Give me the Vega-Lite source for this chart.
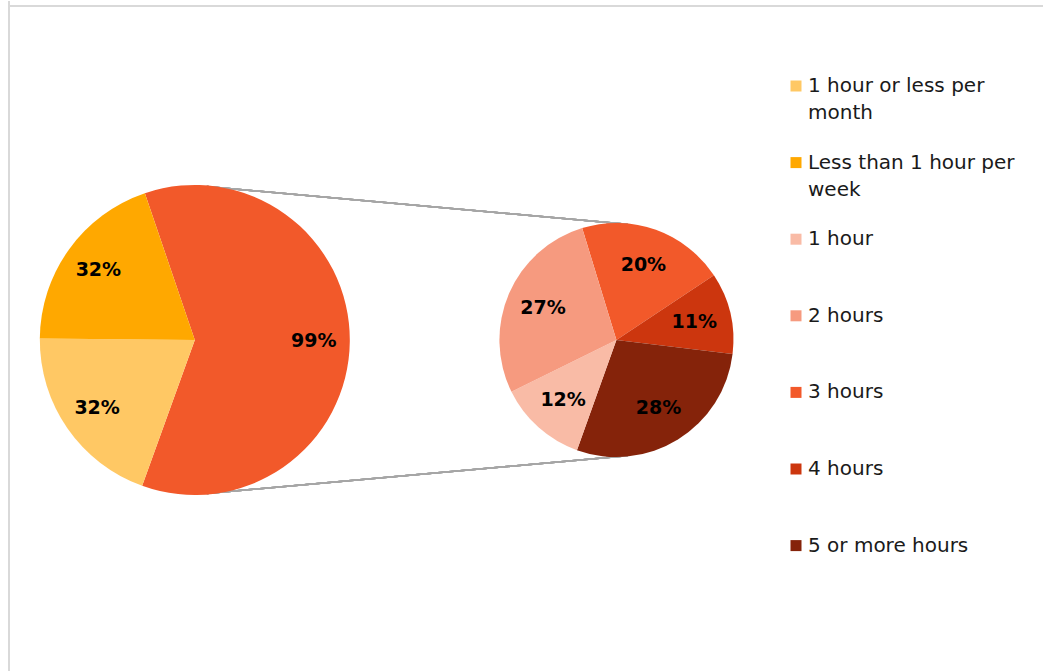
{
  "$schema": "https://vega.github.io/schema/vega-lite/v6.json",
  "width": 1044,
  "height": 672,
  "autosize": {"type": "fit", "contains": "padding"},
  "padding": 0,
  "background": "white",
  "config": {"view": {"stroke": null}, "font": "DejaVu Sans"},
  "datasets": {
    "slices": [
      {"pie": "main", "category": "Other", "value": 99, "label": "99%", "order": 1},
      {"pie": "main", "category": "1 hour or less per month", "value": 32, "label": "32%", "order": 2},
      {"pie": "main", "category": "Less than 1 hour per week", "value": 32, "label": "32%", "order": 3},
      {"pie": "detail", "category": "3 hours", "value": 20, "label": "20%", "order": 1},
      {"pie": "detail", "category": "4 hours", "value": 11, "label": "11%", "order": 2},
      {"pie": "detail", "category": "5 or more hours", "value": 28, "label": "28%", "order": 3},
      {"pie": "detail", "category": "1 hour", "value": 12, "label": "12%", "order": 4},
      {"pie": "detail", "category": "2 hours", "value": 27, "label": "27%", "order": 5}
    ]
  },
  "data": {"name": "slices"},
  "layer": [
    {
      "mark": {"type": "rule", "color": "#D9D9D9", "strokeWidth": 2},
      "encoding": {
        "x": {"datum": 9, "type": "quantitative", "scale": {"domain": [0, 1044], "nice": false, "zero": false}, "axis": null}
      }
    },
    {
      "mark": {"type": "rule", "color": "#D9D9D9", "strokeWidth": 2},
      "encoding": {
        "x": {"datum": 8, "type": "quantitative", "scale": {"domain": [0, 1044], "nice": false, "zero": false}, "axis": null},
        "x2": {"datum": 1044},
        "y": {"datum": 5, "type": "quantitative", "scale": {"domain": [0, 672], "nice": false, "zero": false, "reverse": true}, "axis": null}
      }
    },
    {
      "mark": {"type": "rule", "color": "#A6A6A6", "strokeWidth": 1.5},
      "encoding": {
        "x": {"datum": 207, "type": "quantitative", "scale": {"domain": [0, 1044], "nice": false, "zero": false}, "axis": null},
        "x2": {"datum": 628},
        "y": {"datum": 186, "type": "quantitative", "scale": {"domain": [0, 672], "nice": false, "zero": false, "reverse": true}, "axis": null},
        "y2": {"datum": 224}
      }
    },
    {
      "mark": {"type": "rule", "color": "#A6A6A6", "strokeWidth": 1.5},
      "encoding": {
        "x": {"datum": 207, "type": "quantitative", "scale": {"domain": [0, 1044], "nice": false, "zero": false}, "axis": null},
        "x2": {"datum": 628},
        "y": {"datum": 494, "type": "quantitative", "scale": {"domain": [0, 672], "nice": false, "zero": false, "reverse": true}, "axis": null},
        "y2": {"datum": 456}
      }
    },
    {
      "transform": [{"filter": "datum.pie === 'main'"}],
      "encoding": {
        "x": {"datum": 195, "type": "quantitative", "scale": {"domain": [0, 1044], "nice": false, "zero": false}, "axis": null},
        "y": {"datum": 340, "type": "quantitative", "scale": {"domain": [0, 672], "nice": false, "zero": false, "reverse": true}, "axis": null},
        "theta": {"field": "value", "type": "quantitative", "stack": true, "scale": {"range": [-0.328, 5.955]}},
        "order": {"field": "order", "type": "quantitative"}
      },
      "layer": [
        {
          "mark": {"type": "arc", "outerRadius": 155},
          "encoding": {
            "color": {
              "field": "category", "type": "nominal",
              "scale": {
                "domain": ["1 hour or less per month", "Less than 1 hour per week", "1 hour", "2 hours", "3 hours", "4 hours", "5 or more hours", "Other"],
                "range": ["#FFC864", "#FFA800", "#F9BBA6", "#F69A7F", "#F2592A", "#CC360E", "#85230A", "#F2592A"]
              },
              "legend": {
                "values": ["1 hour or less per month", "Less than 1 hour per week", "1 hour", "2 hours", "3 hours", "4 hours", "5 or more hours"],
                "title": null,
                "orient": "none",
                "legendX": 786,
                "legendY": 75,
                "padding": 0,
                "symbolType": "square",
                "symbolSize": 121,
                "symbolStrokeWidth": 0,
                "labelFontSize": 20,
                "labelColor": "#1a1a1a",
                "labelFont": "DejaVu Sans",
                "labelOffset": 2,
                "labelBaseline": "middle",
                "labelLimit": 400,
                "labelExpr": "datum.label === '1 hour or less per month' ? ['1 hour or less per', 'month'] : datum.label === 'Less than 1 hour per week' ? ['Less than 1 hour per', 'week'] : datum.label",
                "gridAlign": "all",
                "rowPadding": 29.6,
                "encode": {"labels": {"update": {"lineHeight": {"value": 27}}}}
              }
            }
          }
        },
        {
          "mark": {"type": "text", "radius": 119, "fontWeight": "bold", "fontSize": 19, "color": "#000000", "font": "DejaVu Sans"},
          "encoding": {"text": {"field": "label", "type": "nominal"}}
        }
      ]
    },
    {
      "transform": [{"filter": "datum.pie === 'detail'"}],
      "encoding": {
        "x": {"datum": 617, "type": "quantitative", "scale": {"domain": [0, 1044], "nice": false, "zero": false}, "axis": null},
        "y": {"datum": 340, "type": "quantitative", "scale": {"domain": [0, 672], "nice": false, "zero": false, "reverse": true}, "axis": null},
        "theta": {"field": "value", "type": "quantitative", "stack": true, "scale": {"range": [-0.297, 5.986]}},
        "order": {"field": "order", "type": "quantitative"}
      },
      "layer": [
        {
          "mark": {"type": "arc", "outerRadius": 117},
          "encoding": {
            "color": {"field": "category", "type": "nominal"}
          }
        },
        {
          "mark": {"type": "text", "radius": 80, "fontWeight": "bold", "fontSize": 19, "color": "#000000", "font": "DejaVu Sans"},
          "encoding": {"text": {"field": "label", "type": "nominal"}}
        }
      ]
    }
  ],
  "resolve": {"scale": {"theta": "independent"}}
}
